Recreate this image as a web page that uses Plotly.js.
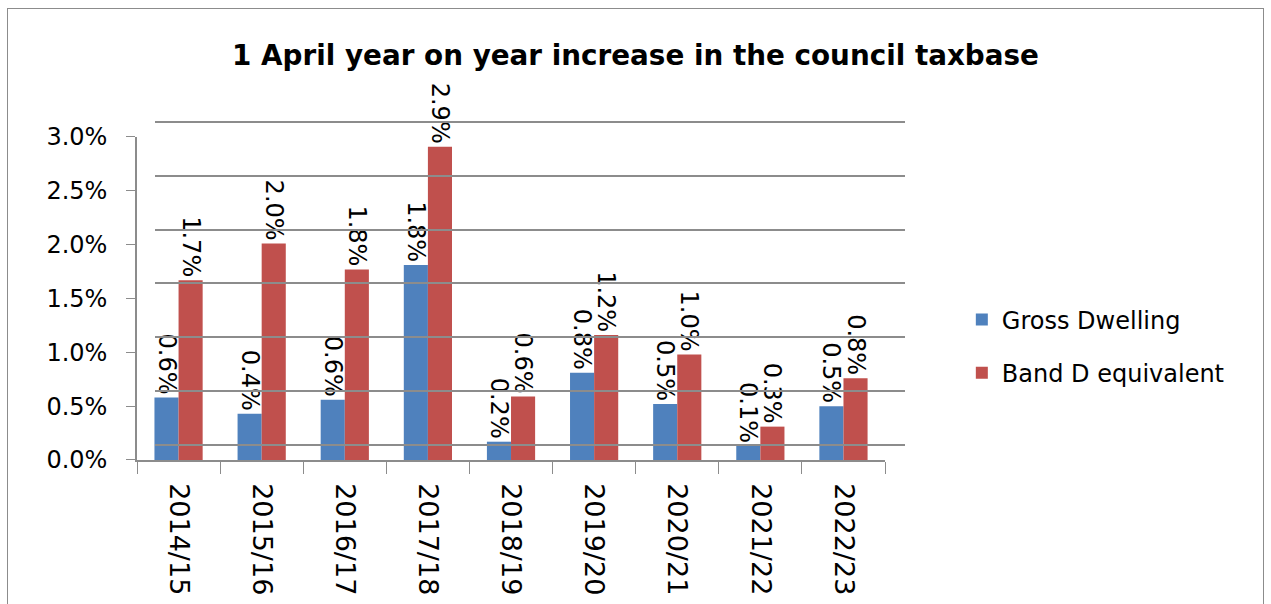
<!DOCTYPE html>
<html>
<head>
<meta charset="utf-8">
<script src="https://cdn.plot.ly/plotly-3.0.1.min.js"></script>
<style>
html,body{margin:0;padding:0;background:#fff;}
#chart{width:1271px;height:604px;}
#frame{position:absolute;left:7px;top:8px;width:1255px;height:600px;border:1px solid #8c8c8c;pointer-events:none;}
</style>
</head>
<body>
<div id="chart"></div>
<div id="frame"></div>
<script>
const categories = ["2014/15","2015/16","2016/17","2017/18","2018/19","2019/20","2020/21","2021/22","2022/23"];
const grossDwelling = [0.0058,0.0043,0.0056,0.0181,0.0017,0.0081,0.0052,0.0013,0.0050];
const bandDEquivalent = [0.0167,0.0201,0.0177,0.0291,0.0059,0.0116,0.0098,0.0031,0.0076];
const seriesNames = ["Gross Dwelling","Band D equivalent"];
const yTickVals = [0,0.005,0.01,0.015,0.02,0.025,0.03];

const font = "DejaVu Sans, sans-serif";
function barTrace(name, vals, color, grp){
  return {type:"bar", name:name, x:categories, y:vals, legendgroup:grp,
    marker:{color:color}, texttemplate:"%{y:.1%}",
    textposition:"outside", textangle:90, cliponaxis:false, constraintext:"none",
    textfont:{family:font,size:24,color:"#000"}, hoverinfo:"skip"};
}
const traces = [
  barTrace(seriesNames[0], grossDwelling, "#4f81bd", "a"),
  barTrace(seriesNames[1], bandDEquivalent, "#c0504d", "b"),
  {type:"scatter", x:[], y:[], xaxis:"x2", yaxis:"y2", showlegend:false, hoverinfo:"skip"}
];
const gridCol = "#8c8c8c";
const layout = {
  width:1271, height:604,
  margin:{l:137,r:366,t:117,b:144},
  paper_bgcolor:"rgba(0,0,0,0)", plot_bgcolor:"rgba(0,0,0,0)",
  barmode:"group", bargap:0.42, bargroupgap:0,
  title:{text:"<b>1 April year on year increase in the council taxbase</b>",
         font:{family:font,size:27.8,color:"#000"}, x:0.5, xref:"container", xanchor:"center",
         y:0.909, yref:"container", yanchor:"middle"},
  xaxis:{domain:[0,0.974], tickangle:90, tickfont:{family:font,size:27,color:"#000"},
         showline:true, linecolor:gridCol, linewidth:1.5, ticks:"outside", ticklen:12, tickcolor:gridCol,
         tickson:"boundaries", showgrid:false, ticklabelstandoff:16},
  yaxis:{domain:[0,0.9417], range:[0,0.03], tickvals:yTickVals, tickformat:".1%",
         tickfont:{family:font,size:24,color:"#000"},
         showline:true, linecolor:gridCol, linewidth:1.5, ticks:"outside", ticklen:9, tickcolor:gridCol,
         showgrid:false, zeroline:false, ticklabelstandoff:14},
  xaxis2:{domain:[0.023,1], anchor:"y2", range:[0,1], showgrid:false, showticklabels:false,
          zeroline:false, showline:false, ticks:""},
  yaxis2:{domain:[0.0344,0.995], anchor:"x2", range:[-0.0003,0.0303], tickvals:yTickVals, showticklabels:false,
          showgrid:true, gridcolor:gridCol, gridwidth:1.5, zeroline:false, showline:false, ticks:""},
  showlegend:true,
  legend:{x:1.074, xanchor:"left", y:0.331, yanchor:"middle", font:{family:font,size:24,color:"#000"},
          tracegroupgap:19, itemwidth:30, traceorder:"grouped", bgcolor:"rgba(0,0,0,0)"}
};
Plotly.newPlot("chart", traces, layout, {displayModeBar:false});
</script>
</body>
</html>
